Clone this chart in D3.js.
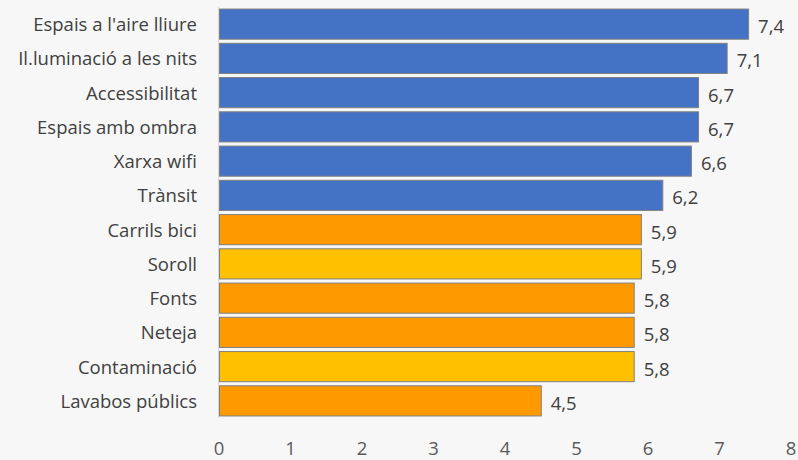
<!DOCTYPE html>
<html><head><meta charset="utf-8">
<script src="https://cdn.jsdelivr.net/npm/d3@7"></script>
<style>
html,body{margin:0;padding:0;background:#f7f7f7;}
svg{display:block;}
text{font-family:"Open Sans",sans-serif;}
</style></head><body>
<svg id="c" width="798" height="460"></svg>
<script>
const categories = ["Espais a l'aire lliure","Il.luminació a les nits","Accessibilitat","Espais amb ombra","Xarxa wifi","Trànsit","Carrils bici","Soroll","Fonts","Neteja","Contaminació","Lavabos públics"];
const values = [7.4,7.1,6.7,6.7,6.6,6.2,5.9,5.9,5.8,5.8,5.8,4.5];
const groups = ["blue","blue","blue","blue","blue","blue","orange","yellow","orange","orange","yellow","orange"];
const tickValues = [0,1,2,3,4,5,6,7,8];

const colors = {blue:"#4472C4", orange:"#FF9900", yellow:"#FFC000"};
const fs = 18.5;
const svg = d3.select("#c");
const x = d3.scaleLinear().domain([0,8]).range([219,791]);
const y = d3.scaleBand().domain(categories).range([7,418]).paddingInner(0.12).paddingOuter(0.06);

svg.append("rect").attr("width",798).attr("height",460).attr("fill","#f7f7f7");

svg.selectAll("rect.bar").data(values).enter().append("rect")
  .attr("class","bar")
  .attr("x",x(0)+0.5)
  .attr("y",(d,i)=>y(categories[i]))
  .attr("width",d=>x(d)-x(0))
  .attr("height",y.bandwidth())
  .attr("fill",(d,i)=>colors[groups[i]])
  .attr("stroke","#808080").attr("stroke-width",1);

svg.append("line").attr("x1",218.5).attr("x2",218.5).attr("y1",7).attr("y2",418)
  .attr("stroke","#d9d9d9").attr("stroke-width",1);

svg.selectAll("text.cat").data(categories).enter().append("text")
  .attr("class","cat")
  .attr("x",197).attr("y",d=>y(d)+y.bandwidth()/2+0.5)
  .attr("dy","0.35em")
  .attr("text-anchor","end")
  .attr("font-size",fs).attr("fill","#404040").text(d=>d);

svg.selectAll("text.val").data(values).enter().append("text")
  .attr("class","val")
  .attr("x",d=>x(d)+10).attr("y",(d,i)=>y(categories[i])+y.bandwidth()/2+2.5)
  .attr("dy","0.35em")
  .attr("font-size",fs).attr("fill","#404040").text(d=>d3.format(".1f")(d).replace(".",","));

svg.selectAll("text.tick").data(tickValues).enter().append("text")
  .attr("class","tick")
  .attr("x",d=>x(d)).attr("y",455)
  .attr("text-anchor","middle")
  .attr("font-size",fs).attr("fill","#595959").text(d=>d);
</script>
</body></html>
